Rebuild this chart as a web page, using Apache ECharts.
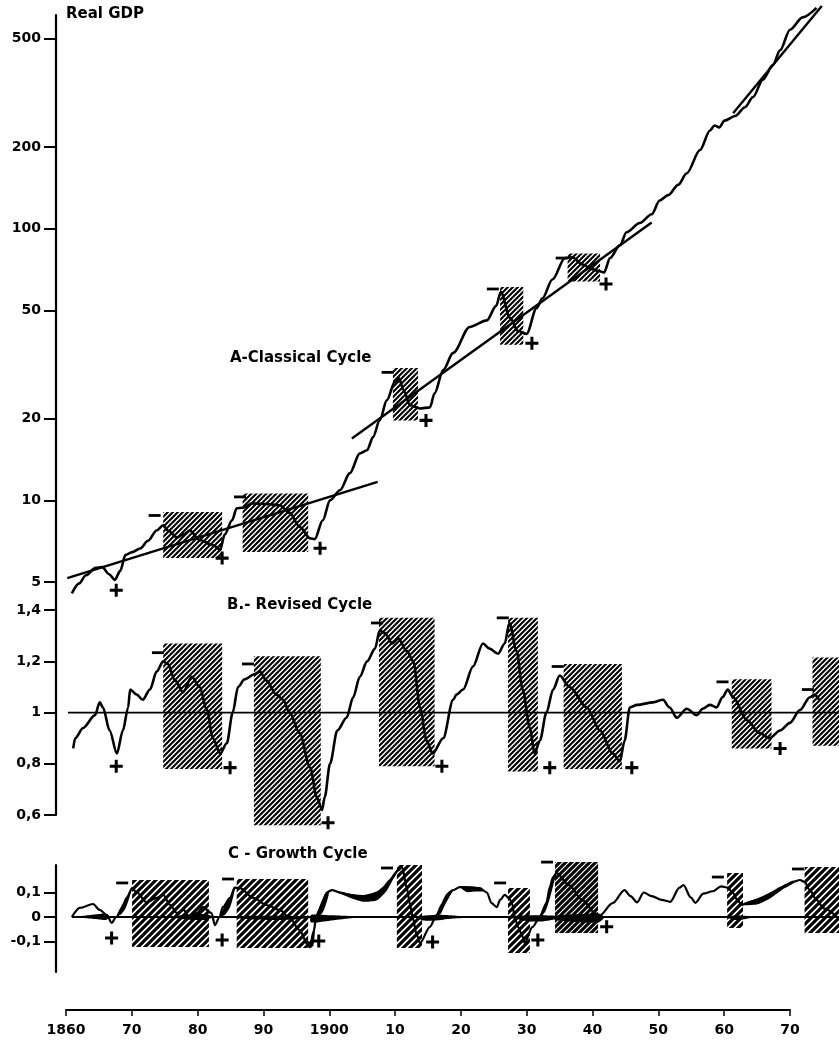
<!DOCTYPE html>
<html>
<head>
<meta charset="utf-8">
<title>Real GDP - classical, revised and growth cycles</title>
<script src="https://cdn.jsdelivr.net/npm/echarts@6/dist/echarts.min.js"></script>
<style>
  html, body { margin: 0; padding: 0; background: #fff; }
  #chart { width: 839px; height: 1040px; }
</style>
</head>
<body>
<div id="chart"></div>
<script>
// ---------------- data ----------------
const yearTicks = [1860, 1870, 1880, 1890, 1900, 1910, 1920, 1930, 1940, 1950, 1960, 1970];
const yearTickLabels = ['1860', '70', '80', '90', '1900', '10', '20', '30', '40', '50', '60', '70'];
const gdpTicks = [5, 10, 20, 50, 100, 200, 500];
const revisedTicks = [0.6, 0.8, 1, 1.2, 1.4];
const growthTicks = [-0.1, 0, 0.1];

// A - classical cycle, real GDP (log scale)
const realGdp = [
  [1860.9, 4.55], [1862, 4.95], [1863, 5.3], [1864.5, 5.65], [1865.5, 5.68], [1866.5, 5.35],
  [1867.4, 5.1], [1868.2, 5.5], [1869, 6.3], [1870, 6.45], [1871.2, 6.65], [1872.4, 7.1],
  [1873.7, 7.75], [1874.7, 8.1], [1875.4, 7.75], [1876.8, 7.3], [1877.8, 7.5], [1878.7, 7.75],
  [1880.2, 7.15], [1882.2, 6.85], [1883.3, 6.6], [1884, 7.5], [1885.1, 8.45], [1885.8, 9.35],
  [1886.7, 9.4], [1888.2, 9.75], [1890.3, 9.7], [1892.3, 9.6], [1893.8, 9.0], [1895.3, 8.0],
  [1896.9, 7.25], [1897.6, 7.2], [1898.8, 8.45], [1899.9, 10.0], [1901.4, 10.9], [1902.9, 12.6],
  [1904.4, 14.9], [1905.5, 15.3], [1906.4, 17.1], [1907.4, 19.7], [1908.5, 23.4], [1909.7, 27.3],
  [1910.3, 28.2], [1911, 25.5], [1912, 22.4], [1913.5, 21.8], [1915, 22], [1915.7, 24.8],
  [1917, 30.2], [1918.5, 34.9], [1921, 43.5], [1923.6, 46], [1925, 52], [1925.7, 58.5],
  [1927.1, 47], [1928.3, 42], [1929.6, 41], [1931.1, 51], [1932, 55.5], [1933.5, 65],
  [1935.4, 78], [1936.5, 78.5], [1938, 74], [1939.5, 71], [1940.4, 70], [1941.3, 69],
  [1942.2, 78], [1943.7, 87], [1944.7, 97], [1946.7, 105], [1948.5, 113], [1949.7, 127],
  [1951, 133], [1952.5, 145], [1953.8, 160], [1955.8, 195], [1957.3, 230], [1958, 240],
  [1958.7, 236], [1959.5, 250], [1961.1, 260], [1962.6, 280], [1963.8, 305], [1965.3, 354],
  [1966.8, 400], [1967.9, 454], [1969.4, 540], [1971.3, 600], [1973.4, 650]
];
const gdpTrends = [
  [[1860.2, 5.17], [1907.1, 11.7]],
  [[1903.2, 16.9], [1948.5, 105.5]],
  [[1960.8, 266], [1974.2, 660]]
];
// [start, end, top, bottom]
const gdpBoxes = [
  [1874.7, 1883.6, 9.06, 6.13], [1886.7, 1896.6, 10.6, 6.45], [1909.4, 1913.2, 30.7, 19.7],
  [1925.6, 1929.1, 61, 37.4], [1935.8, 1940.7, 81, 64]
];
const gdpPeaks = [[1873.4, 8.8], [1886.3, 10.3], [1908.6, 29.6], [1924.5, 60], [1934.9, 78]];
const gdpTroughs = [[1867.6, 4.67], [1883.6, 6.13], [1898.4, 6.67], [1914.4, 19.7], [1930.4, 37.9], [1941.6, 62.6]];

// B - revised cycle
const revised = [
  [1861.1, 0.86], [1861.4, 0.9], [1862.6, 0.94], [1864.4, 0.99], [1865.1, 1.04], [1865.6, 1.02],
  [1866.6, 0.93], [1867.7, 0.84], [1868.6, 0.93], [1869.4, 1.02], [1869.7, 1.09], [1870.7, 1.07],
  [1871.6, 1.05], [1872.7, 1.09], [1873.7, 1.16], [1874.7, 1.2], [1875.4, 1.19], [1876.5, 1.125],
  [1877.7, 1.08], [1879, 1.14], [1880.2, 1.1], [1881.3, 1.01], [1882.2, 0.9], [1883.3, 0.84],
  [1884.3, 0.88], [1885.2, 1.0], [1886, 1.1], [1887, 1.13], [1888.5, 1.15], [1889.3, 1.16],
  [1890.3, 1.125], [1891.8, 1.07], [1892.8, 1.05], [1893.8, 1.0], [1895.3, 0.92], [1896.9, 0.785],
  [1897.9, 0.67], [1898.7, 0.62], [1899.1, 0.67], [1899.9, 0.8], [1901, 0.93], [1902.4, 0.98],
  [1903.4, 1.06], [1904.4, 1.14], [1905.5, 1.2], [1906.7, 1.25], [1907.4, 1.32], [1908.2, 1.31],
  [1909.3, 1.27], [1910.2, 1.29], [1911.5, 1.24], [1912.5, 1.2], [1913.5, 1.02], [1914.5, 0.89],
  [1915.4, 0.84], [1917, 0.9], [1918.5, 1.05], [1919, 1.07], [1920, 1.09], [1921.5, 1.18],
  [1923, 1.27], [1924, 1.25], [1925.3, 1.23], [1926.3, 1.27], [1927, 1.35], [1928.1, 1.24],
  [1929, 1.09], [1930.1, 0.94], [1930.8, 0.84], [1931.6, 0.89], [1932.6, 1.0], [1933.6, 1.09],
  [1934.6, 1.145], [1936.1, 1.1], [1938.7, 1.02], [1940.7, 0.93], [1942.6, 0.84], [1943.7, 0.81],
  [1944.4, 0.89], [1945.2, 1.02], [1946.3, 1.03], [1948.7, 1.04], [1950.2, 1.05], [1951.2, 1.02],
  [1952.3, 0.98], [1953.8, 1.015], [1955.3, 0.99], [1956.2, 1.015], [1957.3, 1.03], [1958.3, 1.02],
  [1959.2, 1.06], [1960, 1.09], [1960.8, 1.06], [1962.9, 0.97], [1964.8, 0.92], [1966.3, 0.9],
  [1967.9, 0.93], [1969.4, 0.96], [1970.9, 1.01], [1972.4, 1.06], [1973.1, 1.07], [1973.8, 1.05]
];
const revisedBase = [[1860.3, 1], [1976.8, 1]];
const revisedBoxes = [
  [1874.7, 1883.6, 1.27, 0.78], [1888.4, 1898.5, 1.22, 0.56], [1907.3, 1915.7, 1.37, 0.79],
  [1926.8, 1931.3, 1.37, 0.77], [1935.2, 1944, 1.19, 0.78], [1960.6, 1966.6, 1.13, 0.86],
  [1972.8, 1976.8, 1.215, 0.87]
];
const revisedPeaks = [[1873.9, 1.234], [1887.5, 1.19], [1907, 1.35], [1926, 1.37], [1934.3, 1.18], [1959.2, 1.12], [1972.1, 1.09]];
const revisedTroughs = [[1867.6, 0.79], [1884.8, 0.785], [1899.6, 0.57], [1916.8, 0.79], [1933.1, 0.785], [1945.5, 0.785], [1967.9, 0.86]];

// C - growth cycle
const growth = [
  [1860.9, 0], [1862.1, 0.037], [1864.1, 0.053], [1865.1, 0.029], [1866.2, 0.008], [1866.9, -0.024],
  [1867.6, 0], [1868.5, 0.037], [1869.2, 0.078], [1870, 0.118], [1870.7, 0.1], [1872.2, 0.06],
  [1873.7, 0.078], [1874.7, 0.09], [1875.7, 0.05], [1876.8, 0.016], [1877.7, 0.03], [1878.7, 0],
  [1879.8, 0.016], [1880.7, 0.04], [1882, 0.016], [1882.5, -0.033], [1883.2, 0], [1883.7, 0.04],
  [1884.8, 0.078], [1885.5, 0.12], [1886.3, 0.118], [1888.3, 0.078], [1890.3, 0.049], [1892.3, 0.029],
  [1893.8, -0.004], [1895.3, -0.053], [1896.4, -0.106], [1896.9, -0.12], [1897.4, -0.06], [1897.9, 0.008],
  [1898.7, 0.05], [1899.4, 0.1], [1900.2, 0.11], [1901.4, 0.1], [1902.9, 0.09], [1904.4, 0.078],
  [1905.9, 0.082], [1907.4, 0.1], [1909, 0.15], [1910.2, 0.19], [1910.8, 0.204], [1911.5, 0.118],
  [1912, 0.05], [1912.4, -0.004], [1913, -0.073], [1913.5, -0.106], [1915, -0.04], [1916, 0.008],
  [1916.8, 0.049], [1917.6, 0.085], [1918.5, 0.11], [1919.5, 0.122], [1921, 0.12], [1922.5, 0.118],
  [1923.6, 0.1], [1924.3, 0.057], [1925.1, 0.04], [1925.6, 0.07], [1926.3, 0.09], [1927, 0.075],
  [1927.4, 0.057], [1927.8, 0], [1928.3, -0.04], [1928.9, -0.073], [1929.3, -0.106], [1930.5, -0.04],
  [1931.6, 0], [1932.6, 0.057], [1933.1, 0.122], [1933.6, 0.163], [1934.1, 0.18], [1936, 0.13],
  [1938, 0.07], [1940, 0.015], [1940.7, 0.008], [1942.6, 0.057], [1944.4, 0.11], [1945.3, 0.085],
  [1946.3, 0.06], [1947.3, 0.1], [1948.5, 0.085], [1950, 0.07], [1951.3, 0.062], [1952.7, 0.12],
  [1953.3, 0.13], [1954.4, 0.08], [1955.1, 0.058], [1956.3, 0.095], [1957.7, 0.105], [1959, 0.125],
  [1960, 0.12], [1960.8, 0.098], [1961.4, 0.07], [1962.1, 0.049], [1962.9, 0.057], [1964.4, 0.07],
  [1965.9, 0.082], [1966.8, 0.1], [1967.9, 0.118], [1968.9, 0.13], [1969.8, 0.143], [1970.9, 0.151],
  [1971.6, 0.143], [1972.4, 0.11], [1973.4, 0.07], [1974.5, 0.035], [1976.5, 0]
];
const growthBase = [[1860.9, 0], [1976.8, 0]];
// black bands: [year, upper, lower]
const growthBands = [
  [[1861, 0, 0], [1863, 0.006, -0.005], [1865, 0.012, -0.01], [1866, 0.014, -0.012], [1866.6, 0.003, -0.003]],
  [[1867.6, 0, 0], [1868.3, 0.04, 0.01], [1869, 0.078, 0.035], [1869.6, 0.1, 0.08], [1870, 0.118, 0.118]],
  [[1876.5, 0.004, -0.004], [1879, 0.01, -0.012], [1881, 0.012, -0.012], [1882, 0.004, -0.004]],
  [[1883.2, 0, 0], [1884, 0.045, 0.008], [1884.8, 0.08, 0.04], [1885.3, 0.108, 0.085], [1885.6, 0.12, 0.12]],
  [[1884, 0, 0], [1888, 0.005, -0.01], [1893, 0.005, -0.012], [1897, 0, -0.004]],
  [[1896, -0.085, -0.1], [1896.8, -0.1, -0.128], [1897.4, -0.06, -0.115], [1897.7, -0.02, -0.03]],
  [[1897.5, -0.01, -0.035], [1898.2, 0.035, -0.005], [1899, 0.088, 0.03], [1899.7, 0.108, 0.09]],
  [[1897, 0.008, -0.022], [1899, 0.008, -0.018], [1902, 0.005, -0.008], [1905, 0, 0]],
  [[1901, 0.105, 0.1], [1903, 0.095, 0.078], [1905, 0.09, 0.062], [1907, 0.105, 0.068], [1908.5, 0.14, 0.108], [1909.8, 0.187, 0.172], [1910.6, 0.2, 0.2]],
  [[1912.5, 0, 0], [1914, 0.005, -0.014], [1916, 0.009, -0.014], [1918, 0.007, -0.007], [1920, 0.003, -0.004], [1922, 0, 0]],
  [[1915.8, 0, 0], [1916.6, 0.048, 0.012], [1917.4, 0.092, 0.056], [1918.3, 0.112, 0.1]],
  [[1919.5, 0.122, 0.122], [1920.5, 0.125, 0.102], [1922, 0.122, 0.104], [1923, 0.11, 0.104]],
  [[1926, 0, 0], [1928, 0.005, -0.008], [1930, 0.007, -0.018], [1932, 0.007, -0.018], [1934, 0.005, -0.009], [1936, 0, 0]],
  [[1931.5, 0, -0.012], [1932.5, 0.062, 0.026], [1933.2, 0.132, 0.085], [1933.8, 0.172, 0.148], [1934.2, 0.18, 0.18]],
  [[1934, 0.005, -0.012], [1938, 0.012, -0.022], [1940.5, 0.012, -0.022], [1941.5, 0, 0]],
  [[1959.5, 0, 0], [1961, 0.006, -0.012], [1962.5, 0.005, -0.009], [1964, 0, 0]],
  [[1962.5, 0.057, 0.048], [1964.5, 0.076, 0.052], [1966.5, 0.102, 0.078], [1968.5, 0.132, 0.116], [1970, 0.149, 0.139]]
];
const growthBoxes = [
  [1870, 1881.6, 0.151, -0.122], [1885.8, 1896.6, 0.155, -0.127], [1910, 1913.8, 0.212, -0.127],
  [1926.8, 1930.1, 0.118, -0.147], [1959.9, 1962.3, 0.18, -0.045], [1971.6, 1976.8, 0.204, -0.065]
];
const growthDarkBoxes = [[1933.9, 1940.4, 0.224, -0.065]];
const growthPeaks = [[1868.5, 0.139], [1884.5, 0.155], [1908.5, 0.2], [1925.6, 0.139], [1932.7, 0.224], [1958.5, 0.163], [1970.6, 0.196]];
const growthTroughs = [[1866.9, -0.086], [1883.6, -0.094], [1898.2, -0.098], [1915.4, -0.102], [1931.3, -0.094], [1941.7, -0.04]];

// ---------------- chart ----------------
const FONT = 'DejaVu Sans';
const INK = '#000';

// diagonal hatch texture ("///"), tile is a multiple of the stripe step so it repeats cleanly
function makeHatch(step, width) {
  const size = step * 4;
  const c = document.createElement('canvas');
  c.width = size;
  c.height = size;
  const ctx = c.getContext('2d');
  ctx.strokeStyle = INK;
  ctx.lineWidth = width;
  ctx.lineCap = 'square';
  ctx.beginPath();
  for (let k = -5; k <= 5; k++) {
    ctx.moveTo(k * step - step, size + step);
    ctx.lineTo(k * step + size + step, -step);
  }
  ctx.stroke();
  return {type: 'pattern', image: c, repeat: 'repeat'};
}
const hatchFine = makeHatch(5, 2.1);
const hatchWide = makeHatch(7, 3.2);
const hatchDark = makeHatch(6, 3.1);

const PLUS = 'path://M4.6,0h2.8v12h-2.8z M0,4.6h12v2.8h-12z';

function boxSeries(data, pattern, axis) {
  return {
    type: 'custom',
    xAxisIndex: axis,
    yAxisIndex: axis,
    z: 1,
    clip: false,
    silent: true,
    encode: {x: [0, 1], y: [2, 3]},
    data: data,
    renderItem: function (params, api) {
      const p0 = api.coord([api.value(0), api.value(2)]);
      const p1 = api.coord([api.value(1), api.value(3)]);
      return {
        type: 'rect',
        shape: {x: p0[0], y: p0[1], width: p1[0] - p0[0], height: p1[1] - p0[1]},
        style: {fill: pattern}
      };
    }
  };
}

function curveSeries(data, axis, width) {
  return {
    type: 'line',
    xAxisIndex: axis,
    yAxisIndex: axis,
    data: data,
    symbol: 'none',
    smooth: 0.3,
    smoothMonotone: 'x',
    clip: false,
    z: 3,
    silent: true,
    lineStyle: {color: INK, width: width}
  };
}

function markerSeries(data, axis, kind) {
  return {
    type: 'scatter',
    xAxisIndex: axis,
    yAxisIndex: axis,
    data: data,
    clip: false,
    z: 4,
    silent: true,
    symbol: kind === '+' ? PLUS : 'rect',
    symbolSize: kind === '+' ? 13 : [12, 2.8],
    itemStyle: {color: INK, opacity: 1}
  };
}

function yAxisBase(gridIndex, ticks, fmt) {
  return {
    gridIndex: gridIndex,
    axisLine: {show: true, lineStyle: {color: INK, width: 2.2}},
    axisTick: {show: true, length: 12, customValues: ticks, lineStyle: {color: INK, width: 2}},
    axisLabel: {
      customValues: ticks,
      margin: 15,
      color: INK,
      fontFamily: FONT,
      fontWeight: 'bold',
      fontSize: 14,
      formatter: fmt
    },
    splitLine: {show: false}
  };
}

const commaFmt = function (v) {
  return String(Math.round(v * 1000) / 1000).replace('.', ',');
};

const hiddenX = {type: 'value', min: 1858.5, max: 1976.8, show: false};
const titleStyle = {fontFamily: FONT, fontWeight: 'bold', fontSize: 15, color: INK};

const option = {
  backgroundColor: '#fff',
  animation: false,
  title: [
    {text: 'Real GDP', left: 66, top: 7, padding: 0, textStyle: titleStyle},
    {text: 'A-Classical Cycle', left: 230, top: 351, padding: 0, textStyle: titleStyle},
    {text: 'B.- Revised Cycle', left: 227, top: 598, padding: 0, textStyle: titleStyle},
    {text: 'C - Growth Cycle', left: 228, top: 847, padding: 0, textStyle: titleStyle}
  ],
  grid: [
    {left: 56, right: 0, top: 15, height: 577, outerBoundsMode: 'none'},
    {left: 56, right: 0, top: 592, height: 223, outerBoundsMode: 'none'},
    {left: 56, right: 0, top: 865, height: 107, outerBoundsMode: 'none'},
    {left: 66, width: 724, top: 1000, height: 10, outerBoundsMode: 'none'}
  ],
  xAxis: [
    Object.assign({gridIndex: 0}, hiddenX),
    Object.assign({gridIndex: 1}, hiddenX),
    Object.assign({gridIndex: 2}, hiddenX),
    {
      gridIndex: 3,
      type: 'value',
      min: 1860,
      max: 1970,
      axisLine: {show: true, lineStyle: {color: INK, width: 2.2}},
      axisTick: {show: true, length: 6, customValues: yearTicks, lineStyle: {color: INK, width: 1.5}},
      axisLabel: {
        customValues: yearTicks,
        margin: 13,
        color: INK,
        fontFamily: FONT,
        fontWeight: 'bold',
        fontSize: 14,
        formatter: function (v) {
          const i = yearTicks.indexOf(Math.round(v));
          return i >= 0 ? yearTickLabels[i] : '';
        }
      },
      splitLine: {show: false}
    }
  ],
  yAxis: [
    Object.assign(yAxisBase(0, gdpTicks, function (v) { return String(Math.round(v)); }),
      {type: 'log', logBase: 10, min: 4.6, max: 612}),
    Object.assign(yAxisBase(1, revisedTicks, commaFmt), {type: 'value', min: 0.6, max: 1.471}),
    Object.assign(yAxisBase(2, growthTicks, commaFmt), {type: 'value', min: -0.2245, max: 0.2122}),
    {gridIndex: 3, type: 'value', show: false}
  ],
  series: [
    // A
    boxSeries(gdpBoxes, hatchFine, 0),
    curveSeries(realGdp, 0, 2.6),
    ...gdpTrends.map(function (t) { return curveSeries(t, 0, 2.4); }),
    markerSeries(gdpPeaks, 0, '-'),
    markerSeries(gdpTroughs, 0, '+'),
    // B
    boxSeries(revisedBoxes, hatchFine, 1),
    Object.assign(curveSeries(revisedBase, 1, 1.8), {smooth: false}),
    curveSeries(revised, 1, 2.6),
    markerSeries(revisedPeaks, 1, '-'),
    markerSeries(revisedTroughs, 1, '+'),
    // C
    boxSeries(growthBoxes, hatchWide, 2),
    boxSeries(growthDarkBoxes, hatchDark, 2),
    Object.assign(curveSeries(growthBase, 2, 2.2), {smooth: false}),
    {
      type: 'custom',
      xAxisIndex: 2,
      yAxisIndex: 2,
      z: 3,
      clip: false,
      silent: true,
      data: growthBands.map(function (b) { return [b[0][0], b[0][1]]; }),
      renderItem: function (params, api) {
        const band = growthBands[params.dataIndex];
        const upper = band.map(function (p) { return api.coord([p[0], p[1]]); });
        const lower = band.slice().reverse().map(function (p) { return api.coord([p[0], p[2]]); });
        return {type: 'polygon', shape: {points: upper.concat(lower), smooth: 0.2}, style: {fill: INK}};
      }
    },
    curveSeries(growth, 2, 2.2),
    markerSeries(growthPeaks, 2, '-'),
    markerSeries(growthTroughs, 2, '+')
  ]
};

const myChart = echarts.init(document.getElementById('chart'), null, {renderer: 'canvas'});
myChart.setOption(option);
</script>
</body>
</html>
